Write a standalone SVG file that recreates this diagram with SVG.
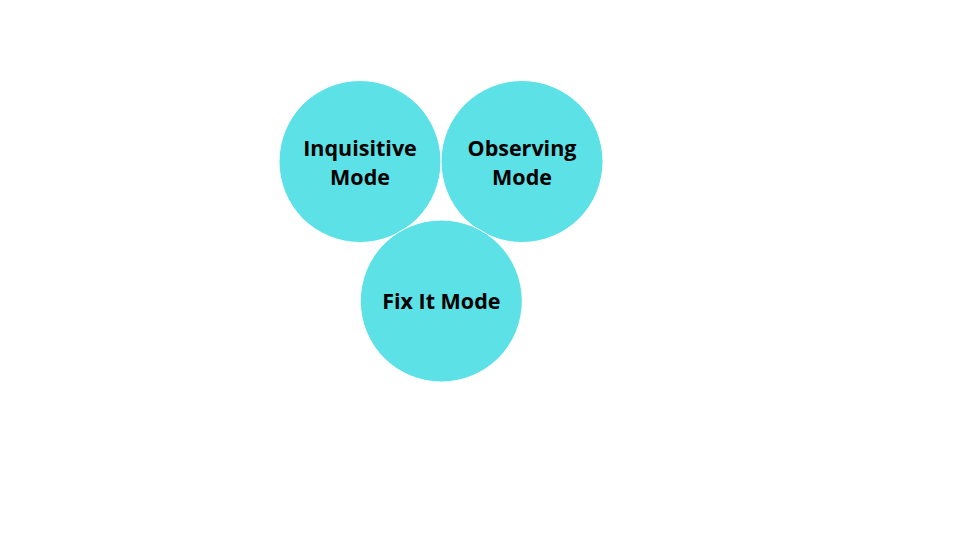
<svg xmlns="http://www.w3.org/2000/svg" width="960" height="540" viewBox="0 0 960 540">
<style>
.c{fill:#5CE1E6;stroke:#FFFFFF;stroke-width:1}
.t{font-family:"Open Sans","Noto Sans","Liberation Sans",sans-serif;font-weight:700;font-size:21.5px;fill:#000000;text-anchor:middle}
</style>
<rect width="960" height="540" fill="#FFFFFF"/>
<g id="connectors"></g>
<g id="inquisitive">
<circle class="c" cx="360" cy="161.5" r="81"/>
<text class="t" x="360" y="156">Inquisitive</text>
<text class="t" x="360" y="185">Mode</text>
</g>
<g id="observing">
<circle class="c" cx="522" cy="161.5" r="81"/>
<text class="t" x="522" y="156">Observing</text>
<text class="t" x="522" y="185">Mode</text>
</g>
<g id="fixit">
<circle class="c" cx="441.3" cy="301" r="81"/>
<text class="t" x="441.3" y="309">Fix It Mode</text>
</g>
</svg>
